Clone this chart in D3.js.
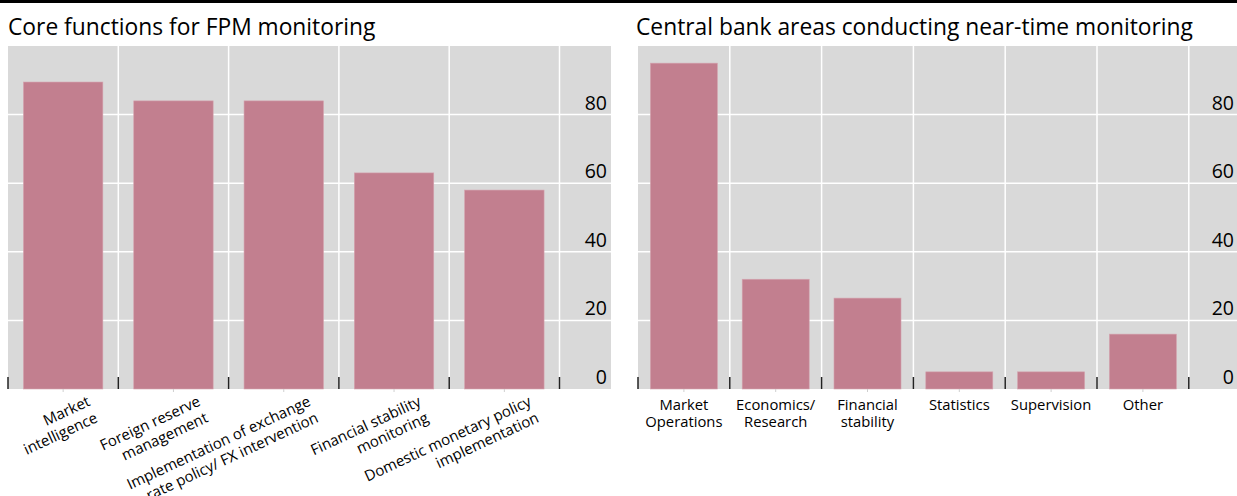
<!DOCTYPE html>
<html>
<head>
<meta charset="utf-8">
<script src="https://cdn.jsdelivr.net/npm/d3@7"></script>
<style>
  html, body { margin: 0; padding: 0; background: #ffffff; }
  svg { display: block; font-family: "Open Sans", "Noto Sans", sans-serif; }
</style>
</head>
<body>
<svg id="chart" width="1237" height="496"></svg>
<script>
// ---- Data ----
const leftTitle = "Core functions for FPM monitoring";
const leftCategories = [
  ["Market", "intelligence"],
  ["Foreign reserve", "management"],
  ["Implementation of exchange", "rate policy/ FX intervention"],
  ["Financial stability", "monitoring"],
  ["Domestic monetary policy", "implementation"]
];
const leftValues = [89.5, 84, 84, 63, 58];

const rightTitle = "Central bank areas conducting near-time monitoring";
const rightCategories = [
  ["Market", "Operations"],
  ["Economics/", "Research"],
  ["Financial", "stability"],
  ["Statistics"],
  ["Supervision"],
  ["Other"]
];
const rightValues = [95, 32, 26.5, 5, 5, 16];

const yTicks = [0, 20, 40, 60, 80];
const yDomain = [0, 100];

// ---- Style ----
const barColor = "#c27f8f";
const bgColor = "#d9d9d9";

const svg = d3.select("#chart");

// top rule
svg.append("rect").attr("x", 0).attr("y", 0).attr("width", 1237).attr("height", 3).attr("fill", "#000");

function panel(opts) {
  const { title, cats, vals, x0, plotRight, step, rotate, titleX, labelRight } = opts;
  const top = 46, bottom = 389;
  const n = cats.length;
  const keys = cats.map(c => c.join(" "));
  const x = d3.scaleBand().domain(keys).range([x0, x0 + n * step])
    .paddingInner(opts.pad).paddingOuter(opts.pad / 2);
  const y = d3.scaleLinear().domain(yDomain).range([bottom, top]);

  const g = svg.append("g");
  g.append("text").attr("x", titleX).attr("y", 35)
    .attr("font-size", 22.8).attr("fill", "#000").text(title);

  g.append("rect").attr("x", x0).attr("y", top)
    .attr("width", plotRight - x0).attr("height", bottom - top).attr("fill", bgColor);

  // horizontal gridlines
  g.selectAll(".hg").data(yTicks.filter(t => t > 0)).enter().append("line")
    .attr("x1", x0).attr("x2", plotRight)
    .attr("y1", d => y(d)).attr("y2", d => y(d))
    .attr("stroke", "#fff").attr("stroke-width", 1.5);

  // vertical gridlines at band boundaries
  const bounds = d3.range(1, n + 1).map(i => x0 + i * step);
  g.selectAll(".vg").data(bounds).enter().append("line")
    .attr("x1", d => d).attr("x2", d => d)
    .attr("y1", top).attr("y2", bottom)
    .attr("stroke", "#fff").attr("stroke-width", 1.5);

  // bars
  g.selectAll(".bar").data(vals).enter().append("rect")
    .attr("x", (d, i) => x(keys[i]))
    .attr("y", d => y(d))
    .attr("width", x.bandwidth())
    .attr("height", d => y(0) - y(d))
    .attr("fill", barColor)
    .attr("stroke", "#d4a3af").attr("stroke-width", 0.6);

  // bottom ticks at boundaries (dark, inside)
  const tickPos = [x0].concat(bounds);
  g.selectAll(".tk").data(tickPos).enter().append("line")
    .attr("x1", d => d).attr("x2", d => d)
    .attr("y1", bottom - 12).attr("y2", bottom)
    .attr("stroke", "#222").attr("stroke-width", 1.5);

  // faint center ticks below axis
  g.selectAll(".ct").data(keys).enter().append("line")
    .attr("x1", d => x(d) + x.bandwidth() / 2).attr("x2", d => x(d) + x.bandwidth() / 2)
    .attr("y1", bottom).attr("y2", bottom + 3)
    .attr("stroke", "#cfcfcf").attr("stroke-width", 1);

  // y labels
  g.selectAll(".yl").data(yTicks).enter().append("text")
    .attr("x", labelRight).attr("y", d => y(d) - 5)
    .attr("text-anchor", "end").attr("font-size", 19.5).attr("fill", "#000")
    .text(d => d);

  // x labels (one text element per category, lines as tspans)
  cats.forEach((lines, i) => {
    const cx = x(keys[i]) + x.bandwidth() / 2;
    if (rotate) {
      const t = g.append("text")
        .attr("transform", `translate(${cx + 28},405) rotate(-25)`)
        .attr("text-anchor", "end").attr("font-size", 15).attr("fill", "#000");
      lines.forEach((s, j) => {
        t.append("tspan").attr("x", 0).attr("y", j * 18).text(s);
      });
    } else {
      const t = g.append("text")
        .attr("text-anchor", "middle").attr("font-size", 14.8).attr("fill", "#000");
      lines.forEach((s, j) => {
        t.append("tspan").attr("x", cx).attr("y", 410 + j * 16.5).text(s);
      });
    }
  });
}

panel({ title: leftTitle, cats: leftCategories, vals: leftValues,
  x0: 8, plotRight: 611, step: 110.3, pad: 0.28, rotate: true, titleX: 8, labelRight: 607 });
panel({ title: rightTitle, cats: rightCategories, vals: rightValues,
  x0: 638, plotRight: 1237, step: 91.8, pad: 0.27, rotate: false, titleX: 636, labelRight: 1234 });
</script>
</body>
</html>
